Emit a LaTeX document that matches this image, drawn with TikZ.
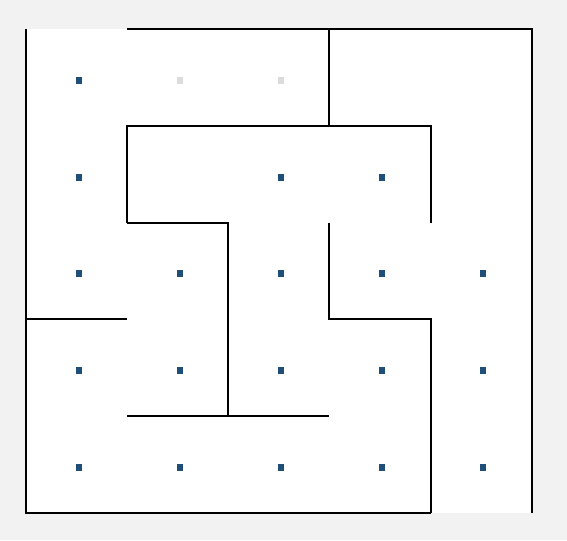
\documentclass[tikz,border=0pt]{standalone}
\usepackage{tikz}
\usepackage{xcolor}
\usetikzlibrary{positioning}
\definecolor{backdrop}{HTML}{F2F2F2}
\definecolor{marker}{HTML}{1F4E79}
\definecolor{faded}{HTML}{DCDCDC}
\tikzstyle{wall} = [line width=1.9pt, draw=black, line join=miter]
\tikzstyle{cellmark} = [rectangle, minimum width=6pt, minimum height=7pt,
                        inner sep=0pt, fill=marker]
\tikzstyle{cellfade} = [cellmark, fill=faded]

\begin{document}
\begin{tikzpicture}[x=101.15pt, y=-96.8pt]
    \useasboundingbox[fill=backdrop] (-0.257,-0.30) rectangle (5.349,5.279);
    \fill[white] (0,0) rectangle (5,5);

    % outer walls, open at top left and bottom right
    \draw[wall] (1,0) -- (5,0) -- (5,5);
    \draw[wall] (0,0) -- (0,5) -- (4,5);

    % inner walls
    \draw[wall] (3,0) -- (3,1);
    \draw[wall] (1,2) -- (1,1) -- (4,1) -- (4,2);
    \draw[wall] (1,2) -- (2,2) -- (2,4);
    \draw[wall] (1,4) -- (3,4);
    \draw[wall] (3,2) -- (3,3) -- (4,3) -- (4,5);
    \draw[wall] (0,3) -- (1,3);

    % cell markers
    \foreach \c/\r in {0/0, 0/1, 2/1, 3/1}
        \node[cellmark] (m-\c-\r) at (\c+0.52,\r+0.53) {};
    \foreach \r in {2,3,4}
        \foreach \c in {0,...,4}
            \node[cellmark] (m-\c-\r) at (\c+0.52,\r+0.53) {};
    \foreach \c in {1,2}
        \node[cellfade] (m-\c-0) at (\c+0.52,0.53) {};
\end{tikzpicture}
\end{document}
